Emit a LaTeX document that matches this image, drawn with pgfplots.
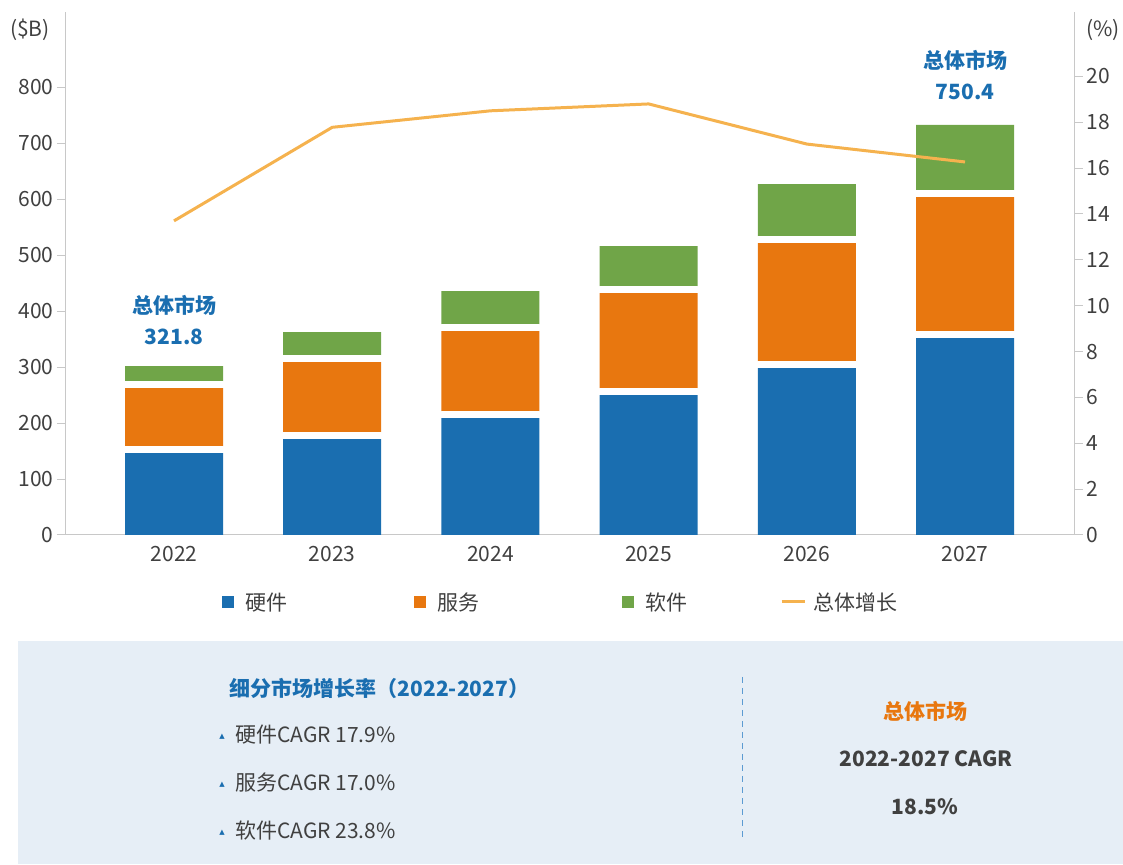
\documentclass[border=0pt]{standalone}
\usepackage{pgfplots}
\pgfplotsset{compat=1.18}
\usepackage{pgfplotstable}
\usepackage{fontspec}
\setmainfont{Noto Sans CJK SC}
\newfontfamily\symfont{DejaVu Sans}
\definecolor{cblue}{HTML}{1A6EB0}
\definecolor{corange}{HTML}{E8770F}
\definecolor{cgreen}{HTML}{70A548}
\definecolor{cline}{HTML}{F5B24E}
\definecolor{textgray}{HTML}{404040}
\definecolor{axisgray}{HTML}{C8C8C8}
\definecolor{boxbg}{HTML}{E6EEF6}
\definecolor{dashblue}{HTML}{5C9BD2}
\pgfplotsset{
  linelegend/.style={legend image code/.code={\draw[##1] (0pt,0pt) -- (23pt,0pt);}},
  sqlegend/.style={legend image code/.code={\fill[##1] (0pt,-6pt) rectangle (12pt,6pt);}},
}

\pgfplotstableread{
x hw g1 sv g2 sw
0 146.4 12.5 103.6 12.5 26.8
1 171.4 12.5 125.0 12.5 41.1
2 208.9 12.5 142.9 12.5 58.9
3 250.0 12.5 169.6 12.5 71.4
4 298.2 12.5 210.7 12.5 92.9
5 351.8 12.5 239.3 12.5 116.1
}\bars

\pgfplotstableread{
x g
0 13.7
1 17.78
2 18.5
3 18.8
4 17.05
5 16.27
}\growth

\begin{document}
\begin{tikzpicture}[x=1pt,y=1pt,font=\fontsize{21}{25}\selectfont]
\useasboundingbox (0,0) rectangle (1123,864);
% bottom panel
\fill[boxbg] (18,0) rectangle (1123,223);
\draw[dashblue, line width=1pt, dash pattern=on 6pt off 5pt] (742,187) -- (742,24);
\node[text=cblue, font=\fontsize{21}{25}\selectfont\bfseries] at (379.5,176) {细分市场增长率（2022-2027）};
\foreach \yy/\tt in {129/硬件CAGR 17.9\%, 81/服务CAGR 17.0\%, 33/软件CAGR 23.8\%}{
  \node[text=cblue, font=\fontsize{7}{8}\selectfont\symfont] at (222,\yy-2) {▲};
  \node[text=textgray, anchor=west, inner sep=0pt] at (235,\yy) {\tt};
}
\node[text=corange, font=\fontsize{21}{25}\selectfont\bfseries] at (925,153) {总体市场};
\node[text=textgray, font=\fontsize{21}{25}\selectfont\bfseries] at (926,105) {2022-2027 CAGR};
\node[text=textgray, font=\fontsize{21}{25}\selectfont\bfseries] at (925,57) {18.5\%};

\begin{axis}[
  at={(65pt,329pt)}, anchor=south west,
  scale only axis, width=1010pt, height=523pt,
  xmin=-0.689, xmax=5.695, ymin=0, ymax=934,
  ybar stacked, bar width=98pt,
  axis x line*=bottom, axis y line*=left,
  axis line style={draw=axisgray, line width=1pt},
  ytick={0,100,...,800},
  xtick={0,1,2,3,4,5}, xticklabels={2022,2023,2024,2025,2026,2027},
  x tick style={draw=none},
  y tick style={draw=axisgray, line width=1pt},
  tick align=outside, major tick length=8pt,
  tick label style={text=textgray, font=\fontsize{21}{25}\selectfont},
  /pgf/number format/assume math mode=true,
  /pgf/number format/1000 sep={},
  legend style={at={(0.1554,-0.1281)}, anchor=west, draw=none, fill=none,
    inner sep=0pt, column sep=0pt, nodes={inner sep=0pt, text=textgray, font=\fontsize{21}{25}\selectfont}},
  legend columns=-1,
]
\addplot[fill=cblue, draw=none, sqlegend] table[x=x,y=hw]{\bars};
\addlegendentry{\makebox[180pt][l]{\hspace{11pt}硬件}}
\addplot[fill=white, draw=none, forget plot] table[x=x,y=g1]{\bars};
\addplot[fill=corange, draw=none, sqlegend] table[x=x,y=sv]{\bars};
\addlegendentry{\makebox[196pt][l]{\hspace{11pt}服务}}
\addplot[fill=white, draw=none, forget plot] table[x=x,y=g2]{\bars};
\addplot[fill=cgreen, draw=none, sqlegend] table[x=x,y=sw]{\bars};
\addlegendentry{\makebox[146pt][l]{\hspace{11pt}软件}}
\addlegendimage{draw=cline, line width=3pt, linelegend}
\addlegendentry{\makebox[95pt][l]{\hspace{7pt}总体增长}}
\end{axis}

\begin{axis}[
  at={(65pt,329pt)}, anchor=south west,
  scale only axis, width=1010pt, height=523pt,
  xmin=-0.689, xmax=5.695, ymin=0, ymax=22.81,
  axis y line*=right, axis x line=none,
  axis line style={draw=axisgray, line width=1pt},
  ytick={0,2,...,20},
  y tick style={draw=axisgray, line width=1pt},
  tick align=outside, major tick length=8pt,
  tick label style={text=textgray, font=\fontsize{21}{25}\selectfont},
  /pgf/number format/assume math mode=true,
]
\addplot[draw=cline, line width=3pt, mark=none] table[x=x,y=g]{\growth};
\end{axis}

\node[text=textgray] at (30,834) {(\$B)};
\node[text=textgray] at (1103,834) {(\%)};
\node[text=cblue, font=\fontsize{21}{25}\selectfont\bfseries] at (174,559) {总体市场};
\node[text=cblue, font=\fontsize{21}{25}\selectfont\bfseries] at (174,527.3) {321.8};
\node[text=cblue, font=\fontsize{21}{25}\selectfont\bfseries] at (965,803.3) {总体市场};
\node[text=cblue, font=\fontsize{21}{25}\selectfont\bfseries] at (965,771.7) {750.4};
\end{tikzpicture}
\end{document}
